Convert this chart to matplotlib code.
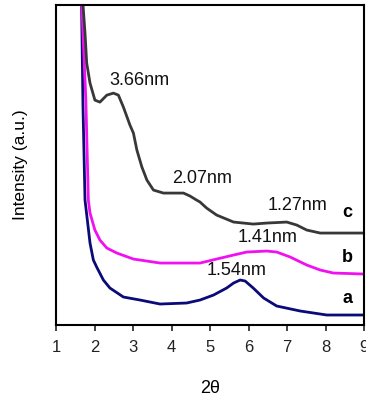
import matplotlib
matplotlib.use("Agg")
import matplotlib.pyplot as plt

plt.rcParams["font.family"] = ["Liberation Sans", "DejaVu Sans"]

# curve a (navy)
a_x = [1.66, 1.70, 1.753, 1.814, 1.883, 1.97, 2.056, 2.23, 2.40, 2.75, 3.18, 3.70,
       4.39, 4.74, 5.09, 5.43, 5.61, 5.78, 5.91, 6.12, 6.39, 6.73, 7.34, 8.03, 9.0]
a_y = [330, 220, 125, 105, 82, 65, 58, 45, 37, 28, 25, 21,
       22, 25, 30, 37, 42, 45, 44, 37, 27, 19, 14, 10, 10]

# curve b (magenta)
b_x = [1.66, 1.775, 1.84, 1.883, 2.01, 2.14, 2.32, 2.58, 3.01, 3.70, 4.74, 5.17,
       5.61, 5.95, 6.47, 6.73, 7.08, 7.51, 7.86, 8.20, 9.0]
b_y = [330, 225, 125, 112, 95, 85, 77, 72, 66, 62, 62, 66,
       70, 73, 74, 73, 68, 60, 55, 52, 51]

# curve c (dark grey)
c_x = [1.68, 1.693, 1.753, 1.797, 1.883, 2.01, 2.14, 2.32, 2.49, 2.62, 2.75, 2.92,
       3.01, 3.10, 3.23, 3.36, 3.53, 3.79, 4.05, 4.31, 4.48, 4.65, 4.74, 4.91,
       5.17, 5.61, 6.12, 6.47, 6.99, 7.25, 7.51, 7.86, 9.0]
c_y = [340, 325, 292, 262, 242, 225, 223, 230, 232, 230, 218, 200,
       192, 175, 158, 145, 135, 132, 132, 132, 129, 125, 123, 117,
       110, 103, 101, 102, 103, 100, 95, 92, 92]

peak_labels = ["3.66nm", "2.07nm", "1.27nm", "1.41nm", "1.54nm"]
peak_x = [3.16, 4.79, 7.26, 6.5, 5.7]
peak_y = [245, 147, 120, 88, 55]

curve_names = ["c", "b", "a"]
name_y = [113, 68, 27]

fig = plt.figure(figsize=(3.66, 3.98), dpi=100)
ax = fig.add_axes([0.153, 0.1834, 0.842, 0.8036])

ax.plot(a_x, a_y, color="#0a0a78", lw=2.0)
ax.plot(b_x, b_y, color="#f010f0", lw=2.0)
ax.plot(c_x, c_y, color="#383838", lw=2.0)

for t, x, y in zip(peak_labels, peak_x, peak_y):
    ax.text(x, y, t, ha="center", va="center", fontsize=13, color="#111111")
for t, y in zip(curve_names, name_y):
    ax.text(8.56, y, t, ha="center", va="center", fontsize=13, fontweight="bold")

ax.set_xlim(1, 9)
ax.set_ylim(0, 320)
ax.set_xticks(range(1, 10))
ax.set_yticks([])
ax.tick_params(axis="x", direction="out", length=4, width=1.2, pad=7,
               labelsize=12, colors="#222222")
for s in ax.spines.values():
    s.set_linewidth(1.5)

ax.set_ylabel("Intensity (a.u.)", fontsize=12.5, labelpad=20)
ax.set_xlabel("2\u03b8", fontsize=13, labelpad=18)

fig.savefig("out.png", dpi=100)
